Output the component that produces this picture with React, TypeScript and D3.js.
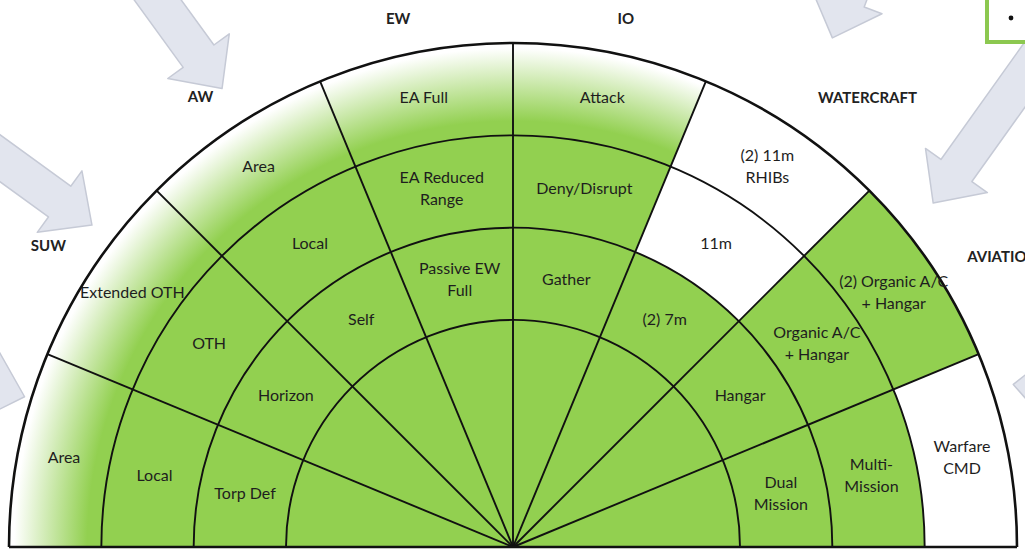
import * as d3 from "d3";

// sector headings, left (9 o'clock) to right (3 o'clock)
const sectorTitles = ["", "SUW", "AW", "EW", "IO", "WATERCRAFT", "AVIATION", ""];

// cell texts per ring, inner band to outer band
const innerLabels = ["Torp Def", "Horizon", "Self", "Passive EW\nFull", "Gather", "(2) 7m", "Hangar", "Dual\nMission"];
const middleLabels = ["Local", "OTH", "Local", "EA Reduced\nRange", "Deny/Disrupt", "11m", "Organic A/C\n+ Hangar", "Multi-\nMission"];
const outerLabels = ["Area", "Extended OTH", "Area", "EA Full", "Attack", "(2) 11m\nRHIBs", "(2) Organic A/C\n+ Hangar", "Warfare\nCMD"];

// 1 = have it, 0.5 = partly, 0 = no
const innerStatus = [1, 1, 1, 1, 1, 1, 1, 1];
const middleStatus = [1, 1, 1, 1, 1, 0, 1, 1];
const outerStatus = [0.5, 0.5, 0.5, 0.5, 0.5, 0, 1, 0];

const W = 1025;
const H = 556;
const cx = 513;
const cy = 547;
const GREEN = "#92D050";

// small nudges for the heading labels (they are hand placed in the original)
const titleNudge = [[0, 0], [-9, 3], [-8, 6], [-8, 9], [6, 9], [50, 7], [34, 14], [0, 0]];

// decorative block arrows: polar tip (deg from 12 o'clock, radius) and heading in screen degrees
const arrows = [
  { a: -32.4, r: 543, h: 54 },
  { a: -52.6, r: 530, h: 36 },
  { a: -72.9, r: 511, h: 17 },
  { a: 32.1, r: 601, h: 110.5 },
  { a: 50.7, r: 543, h: 125.5 },
  { a: 72, r: 526, h: 185 },
];

function arrowPath(x: number, y: number, h: number) {
  const hl = 40, hw = 38, sw = 19, sl = 220;
  const pts = [[0, 0], [-hl, hw], [-hl, sw], [-hl - sl, sw], [-hl - sl, -sw], [-hl, -sw], [-hl, -hw]];
  const t = (h * Math.PI) / 180;
  const c = Math.cos(t), s = Math.sin(t);
  return (
    "M" +
    pts.map(([px, py]) => `${x + px * c - py * s},${y + px * s + py * c}`).join("L") +
    "Z"
  );
}

export default function App() {
  const idx = d3.range(sectorTitles.length);
  const angle = d3.scaleBand<number>().domain(idx).range([-Math.PI / 2, Math.PI / 2]);
  const radius = d3.scaleLinear().domain([0, 3]).range([227, 504]);

  const rings = [
    { labels: innerLabels, status: innerStatus },
    { labels: middleLabels, status: middleStatus },
    { labels: outerLabels, status: outerStatus },
  ];

  const arc = d3.arc<any>();
  const cells = rings.flatMap((ring, k) =>
    idx.map((j) => {
      const d = {
        innerRadius: radius(k),
        outerRadius: radius(k + 1),
        startAngle: angle(j)!,
        endAngle: angle(j)! + angle.bandwidth(),
      };
      return { k, j, d, label: ring.labels[j], status: ring.status[j] };
    })
  );

  const half = (r: number) =>
    arc({ innerRadius: r, outerRadius: r, startAngle: -Math.PI / 2, endAngle: Math.PI / 2 });

  const R = radius(3);
  const boundaries = d3.range(1, sectorTitles.length).map((j) => angle(j)!);

  const fill = (s: number) => (s === 1 ? GREEN : s === 0.5 ? "url(#fade)" : "#ffffff");

  return (
    <svg width={W} height={H} style={{ position: "absolute", left: 0, top: 0, background: "#fff" }}>
      <defs>
        <radialGradient id="fade" gradientUnits="userSpaceOnUse" cx={0} cy={0} r={R}>
          <stop offset="0.845" stopColor={GREEN} />
          <stop offset="0.99" stopColor="#ffffff" />
        </radialGradient>
      </defs>

      {arrows.map((ar, i) => {
        const t = (ar.a * Math.PI) / 180;
        const x = cx + ar.r * Math.sin(t);
        const y = cy - ar.r * Math.cos(t);
        return (
          <path key={i} d={arrowPath(x, y, ar.h)} fill="#e2e5ee" stroke="#c6cad6" strokeWidth={1.5} strokeLinejoin="round" />
        );
      })}

      <rect x={987} y={-10} width={60} height={52} fill="#fff" stroke="#8CC850" strokeWidth={4} />
      <circle cx={1011} cy={18} r={2.4} fill="#111" />

      <g transform={`translate(${cx},${cy})`}>
        <path
          d={arc({ innerRadius: 0, outerRadius: radius(0), startAngle: -Math.PI / 2, endAngle: Math.PI / 2 })!}
          fill={GREEN}
        />
        {cells.map((c) => (
          <path key={`c${c.k}-${c.j}`} d={arc(c.d)!} fill={fill(c.status)} stroke="none" />
        ))}

        {[0, 1, 2].map((k) => (
          <path key={`r${k}`} d={half(radius(k))!} fill="none" stroke="#111" strokeWidth={1.9} />
        ))}
        {boundaries.map((a, i) => (
          <line
            key={`b${i}`}
            x1={0}
            y1={0}
            x2={R * Math.sin(a)}
            y2={-R * Math.cos(a)}
            stroke="#111"
            strokeWidth={1.9}
          />
        ))}
        <path d={half(R)!} fill="none" stroke="#111" strokeWidth={2.6} />
        <line x1={-R} y1={0} x2={R} y2={0} stroke="#111" strokeWidth={2.6} />

        {cells.map((c) => {
          const [lx, ly] = arc.centroid(c.d);
          const lines = c.label.split("\n");
          return (
            <text
              key={`t${c.k}-${c.j}`}
              x={lx}
              y={ly}
              textAnchor="middle"
              fontFamily="Lato, 'Open Sans', sans-serif"
              fontSize={16}
              fill="#1e1e1e"
            >
              {lines.map((ln, i) => (
                <tspan key={i} x={lx} dy={i === 0 ? -((lines.length - 1) * 22) / 2 + 5.5 : 22}>
                  {ln}
                </tspan>
              ))}
            </text>
          );
        })}

        {idx.map((j) => {
          if (!sectorTitles[j]) return null;
          const a = angle(j)! + angle.bandwidth() / 2;
          const x = 548 * Math.sin(a) + titleNudge[j][0];
          const y = -548 * Math.cos(a) + titleNudge[j][1];
          return (
            <text
              key={`h${j}`}
              x={x}
              y={y + 5}
              textAnchor="middle"
              fontFamily="Lato, 'Open Sans', sans-serif"
              fontWeight={700}
              fontSize={15}
              fill="#222"
            >
              {sectorTitles[j]}
            </text>
          );
        })}
      </g>
    </svg>
  );
}
